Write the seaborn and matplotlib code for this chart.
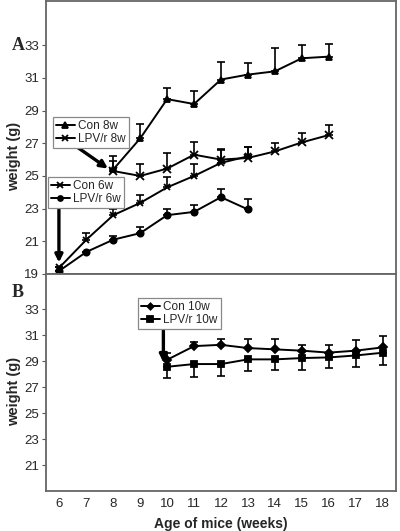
import numpy as np
import pandas as pd
import matplotlib
matplotlib.use('Agg')
import matplotlib.pyplot as plt
import seaborn as sns

# Panel A data (week, mean weight, upper error)
weeks_8w = [8, 9, 10, 11, 12, 13, 14, 15, 16]
con_8w = [25.4, 27.3, 29.7, 29.4, 30.9, 31.2, 31.4, 32.2, 32.3]
con_8w_err = [0.8, 0.9, 0.7, 0.8, 1.1, 0.7, 1.4, 0.8, 0.8]
lpv_8w = [25.3, 25.0, 25.45, 26.3, 26.0, 26.1, 26.5, 27.05, 27.5]
lpv_8w_err = [0.6, 0.7, 0.95, 0.8, 0.65, 0.7, 0.5, 0.55, 0.6]

weeks_6w = [6, 7, 8, 9, 10, 11, 12, 13]
con_6w = [19.4, 21.1, 22.6, 23.35, 24.3, 25.0, 25.8, 26.2]
con_6w_err = [0, 0.4, 0.4, 0.5, 0.65, 0.7, 0.8, 0.6]
lpv_6w = [19.2, 20.35, 21.1, 21.5, 22.6, 22.8, 23.7, 22.95]
lpv_6w_err = [0, 0, 0.2, 0.35, 0.35, 0.4, 0.5, 0.65]

# Panel B data (LPV/r 10w errors point down)
weeks_10w = [10, 11, 12, 13, 14, 15, 16, 17, 18]
con_10w = [29.1, 30.15, 30.25, 30.0, 29.9, 29.8, 29.65, 29.8, 30.05]
con_10w_err = [0.5, 0.35, 0.45, 0.7, 0.8, 0.45, 0.6, 0.8, 0.9]
lpv_10w = [28.56, 28.77, 28.77, 29.13, 29.13, 29.23, 29.28, 29.43, 29.64]
lpv_10w_err = [0.9, 0.97, 0.92, 0.88, 0.83, 0.93, 0.84, 0.87, 0.94]

x_ticks = list(range(6, 19))

sns.set_style('white')
plt.rcParams['font.family'] = ['Liberation Sans', 'DejaVu Sans']

fig = plt.figure(figsize=(4, 5.31), dpi=100)
axA = fig.add_axes([0.115, 0.484, 0.875, 0.514])
axB = fig.add_axes([0.115, 0.0753, 0.875, 0.4087])


def draw_series(ax, x, y, err, marker, label, ms, up=True):
    sns.lineplot(x=x, y=y, ax=ax, color='black', marker=marker, markersize=ms,
                 markeredgecolor='black', markerfacecolor='black', mew=1.3,
                 lw=1.4, label=label, legend=False)
    zeros = np.zeros(len(err))
    yerr = [zeros, err] if up else [err, zeros]
    ax.errorbar(x, y, yerr=yerr, fmt='none', ecolor='black', elinewidth=1.2,
                capsize=3, capthick=1.2)


draw_series(axA, weeks_8w, con_8w, con_8w_err, '^', 'Con 8w', 5)
draw_series(axA, weeks_8w, lpv_8w, lpv_8w_err, 'x', 'LPV/r 8w', 6)
draw_series(axA, weeks_6w, con_6w, con_6w_err, 'x', 'Con 6w', 5)
draw_series(axA, weeks_6w, lpv_6w, lpv_6w_err, 'o', 'LPV/r 6w', 4.5)

draw_series(axB, weeks_10w, con_10w, con_10w_err, 'D', 'Con 10w', 4)
draw_series(axB, weeks_10w, lpv_10w, lpv_10w_err, 's', 'LPV/r 10w', 5, up=False)

for ax in (axA, axB):
    ax.set_xlim(5.5, 18.5)
    ax.set_ylim(19, 35.7)
    ax.set_xticks(x_ticks)
    ax.set_xticks(np.arange(5.5, 18.6, 1), minor=True)
    ax.tick_params(axis='x', which='major', length=0, labelsize=9.5, pad=5)
    ax.tick_params(axis='x', which='minor', length=4, width=0.8, color='#555555',
                   direction='out')
    ax.tick_params(axis='y', which='major', length=3, width=0.8, color='#555555',
                   labelsize=9.5, pad=2, left=True)
    for s in ax.spines.values():
        s.set_color('#666666')
        s.set_linewidth(1.3)
    ax.set_ylabel('weight (g)', fontsize=10.5, fontweight='bold')

axA.set_yticks(range(19, 34, 2))
axA.tick_params(axis='x', labelbottom=False)
axA.yaxis.set_label_coords(-0.071, 0.43)
axB.set_yticks(range(21, 34, 2))
axB.yaxis.set_label_coords(-0.071, 0.46)
axB.set_xlabel('Age of mice (weeks)', fontsize=10, fontweight='bold', labelpad=5)


def legend_box(ax, labels, anchor):
    handles = [h for h in ax.get_lines() if h.get_label() in labels]
    handles = sorted(handles, key=lambda h: labels.index(h.get_label()))
    leg = fig.legend(handles=handles, labels=labels, loc='upper left',
                     bbox_to_anchor=anchor, bbox_transform=fig.transFigure,
                     fontsize=8.5, frameon=True, fancybox=False, handlelength=1.6,
                     handletextpad=0.3, borderpad=0.25, labelspacing=0.12,
                     borderaxespad=0, markerscale=0.8, framealpha=1)
    leg.get_frame().set_edgecolor('#888888')
    leg.get_frame().set_linewidth(0.9)
    return leg


legend_box(axA, ['Con 8w', 'LPV/r 8w'], (0.1325, 0.78))
legend_box(axA, ['Con 6w', 'LPV/r 6w'], (0.12, 0.667))
legend_box(axB, ['Con 10w', 'LPV/r 10w'], (0.345, 0.439))

arrow = dict(arrowstyle='-|>', lw=2.4, color='black', mutation_scale=11,
             shrinkA=0, shrinkB=0)
axA.annotate('', xy=(7.8, 25.45), xytext=(6.67, 26.75), arrowprops=arrow)
axA.annotate('', xy=(5.98, 19.7), xytext=(5.98, 23.3), arrowprops=arrow)
axB.annotate('', xy=(9.86, 28.9), xytext=(9.86, 31.4), arrowprops=arrow)

fig.text(0.03, 0.915, 'A', fontsize=13, fontweight='bold', family='Liberation Serif',
         va='center')
fig.text(0.03, 0.45, 'B', fontsize=13, fontweight='bold', family='Liberation Serif',
         va='center')

fig.savefig('out.png', dpi=100)
plt.close(fig)
